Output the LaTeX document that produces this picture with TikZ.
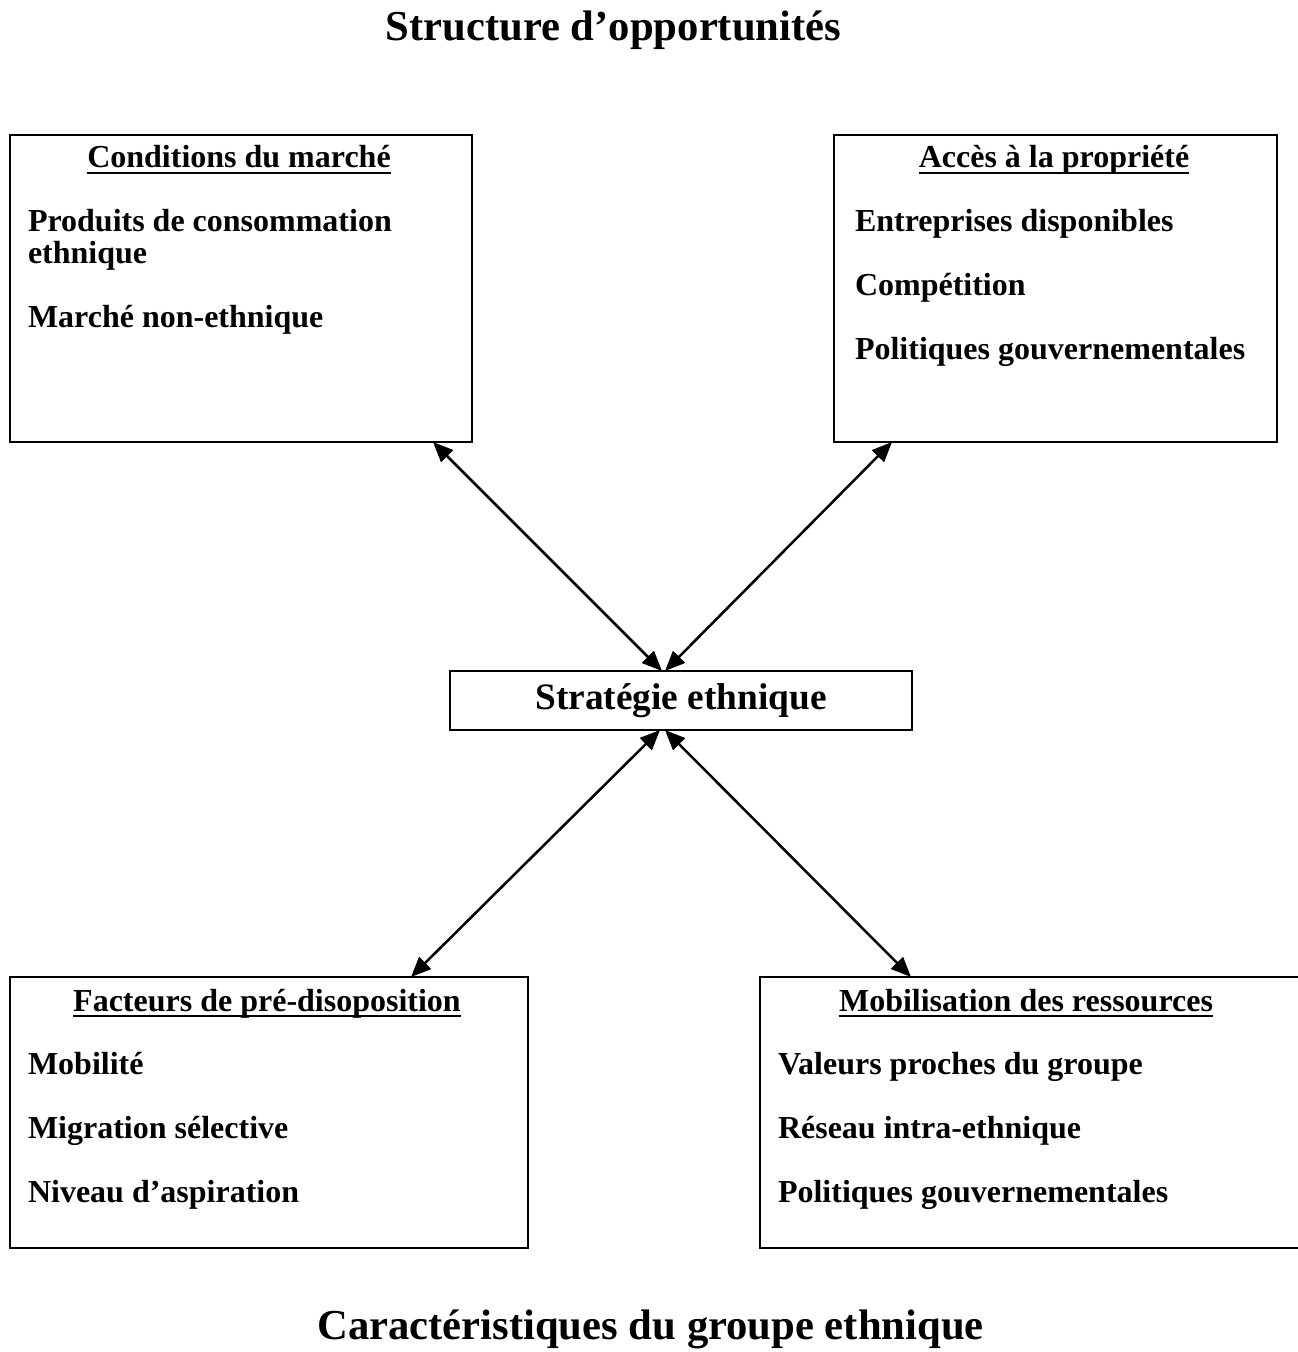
\documentclass[tikz,border=0pt]{standalone}
\usepackage{fontspec}
\setmainfont{Liberation Serif}
\usetikzlibrary{arrows.meta,calc}
\begin{document}
\begin{tikzpicture}[x=0.75pt,y=-0.75pt,
  box/.style={draw,line width=1.5pt,rectangle,inner sep=0pt,outer sep=0pt},
  txt/.style={anchor=base west,inner sep=0pt,outer sep=0pt,font=\bfseries\fontsize{24}{28}\selectfont},
  head/.style={anchor=base,inner sep=0pt,outer sep=0pt,font=\bfseries\fontsize{24}{28}\selectfont},
  ttl/.style={anchor=base,inner sep=0pt,outer sep=0pt,font=\bfseries\fontsize{32}{36}\selectfont},
  ul/.style={line width=1.4pt},
  arr/.style={line width=1.9pt,{Triangle[length=15pt,width=12.5pt]}-{Triangle[length=15pt,width=12.5pt]}}]
\useasboundingbox (0,0) rectangle (1297,1352);

% titles
\node[ttl] (title1) at (613.5,41) {Structure d’opportunités};
\node[ttl] (title2) at (650.5,1339) {Caractéristiques du groupe ethnique};

% boxes
\node[box,minimum width=346.5pt,minimum height=230.25pt] (tl) at (241,288.5) {};
\node[box,minimum width=332.25pt,minimum height=230.25pt] (tr) at (1055.5,288.5) {};
\node[box,minimum width=388.5pt,minimum height=203.25pt] (bl) at (269,1112.5) {};
\node[box,minimum width=405pt,minimum height=203.25pt] (br) at (1030,1112.5) {};
\node[box,minimum width=346.5pt,minimum height=44.25pt,font=\bfseries\fontsize{28}{32}\selectfont] (c) at (681,700.5) {Stratégie ethnique};

% top-left box text
\node[head] (tlh) at (239,168) {Conditions du marché};
\node[txt] (tl1) at (28,231) {Produits de consommation};
\node[txt] (tl2) at (28,263) {ethnique};
\node[txt] (tl3) at (28,327) {Marché non-ethnique};

% top-right box text
\node[head] (trh) at (1054,168) {Accès à la propriété};
\node[txt] (tr1) at (855,231) {Entreprises disponibles};
\node[txt] (tr2) at (855,295) {Compétition};
\node[txt] (tr3) at (855,359) {Politiques gouvernementales};

% bottom-left box text
\node[head] (blh) at (267,1011) {Facteurs de pré-disoposition};
\node[txt] (bl1) at (28,1074) {Mobilité};
\node[txt] (bl2) at (28,1138) {Migration sélective};
\node[txt] (bl3) at (28,1202) {Niveau d’aspiration};

% bottom-right box text
\node[head] (brh) at (1026,1011) {Mobilisation des ressources};
\node[txt] (br1) at (778,1074) {Valeurs proches du groupe};
\node[txt] (br2) at (778,1138) {Réseau intra-ethnique};
\node[txt] (br3) at (778,1202) {Politiques gouvernementales};

% underlines
\foreach \h in {tlh,trh,blh,brh}
  \draw[ul] ($(\h.base west)+(0,5)$) -- ($(\h.base east)+(0,5)$);

% connectors
\draw[arr] ($(tl.south east)+(-39,0)$) -- ($(c.north)+(-19,0)$);
\draw[arr] ($(tr.south west)+(58,0)$) -- ($(c.north)+(-16,0)$);
\draw[arr] ($(c.south)+(-21,0)$) -- ($(bl.north east)+(-117,0)$);
\draw[arr] ($(c.south)+(-16,0)$) -- ($(br.north west)+(151,0)$);
\end{tikzpicture}
\end{document}
